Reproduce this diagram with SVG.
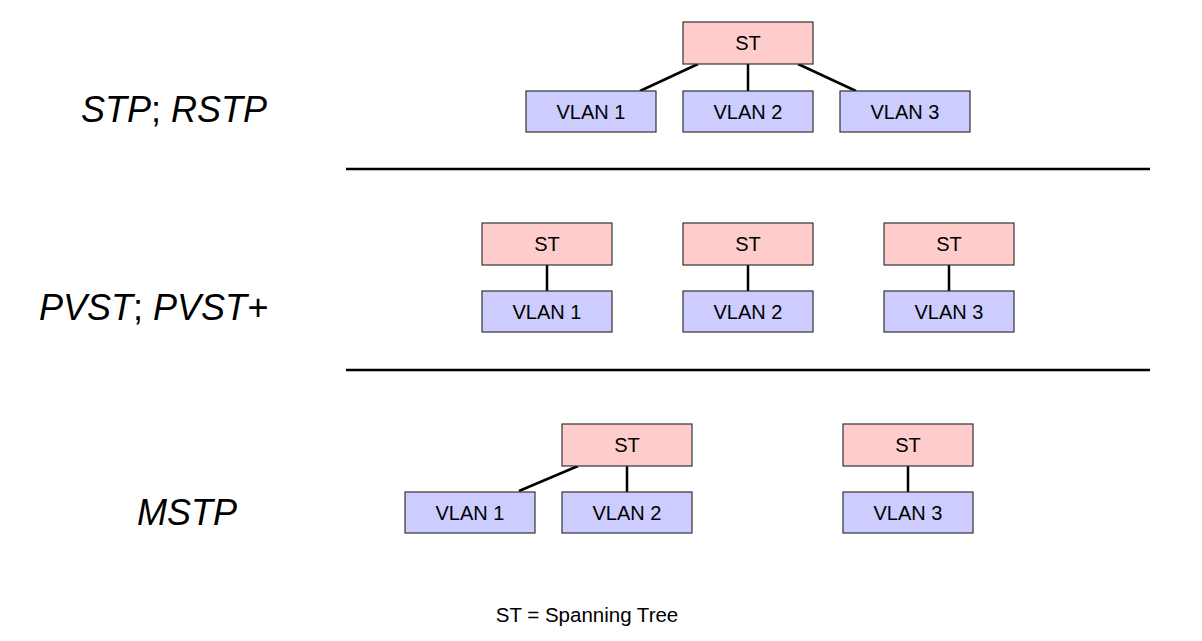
<svg xmlns="http://www.w3.org/2000/svg" width="1202" height="641" viewBox="0 0 1202 641">
<style>
.st{fill:#ffcccc;stroke:#333;stroke-width:1.2}
.vl{fill:#ccccff;stroke:#333;stroke-width:1.2}
.bt{font-family:"Liberation Sans",Arial,sans-serif;font-size:20px;fill:#000;text-anchor:middle}
.lab{font-family:"Liberation Sans",Arial,sans-serif;font-size:36px;font-style:italic;fill:#000}
.up{font-style:normal}
.c{stroke:#000;stroke-width:2.5;fill:none}
.sep{stroke:#000;stroke-width:2.5}
</style>
<rect width="1202" height="641" fill="#fff"/>
<text class="lab" x="81" y="122">STP<tspan class="up">; </tspan>RSTP</text>
<text class="lab" x="39" y="320">PVST<tspan class="up">; </tspan>PVST+</text>
<text class="lab" x="137" y="525">MSTP</text>
<line class="sep" x1="346" y1="169" x2="1150" y2="169"/>
<line class="sep" x1="346" y1="370" x2="1150" y2="370"/>
<g id="connectors">
<line class="c" x1="640" y1="91" x2="698" y2="64"/>
<line class="c" x1="748" y1="64" x2="748" y2="91"/>
<line class="c" x1="798" y1="64" x2="856" y2="91"/>
<line class="c" x1="547" y1="265" x2="547" y2="291"/>
<line class="c" x1="748" y1="265" x2="748" y2="291"/>
<line class="c" x1="949" y1="265" x2="949" y2="291"/>
<line class="c" x1="519" y1="491" x2="578" y2="466"/>
<line class="c" x1="627" y1="466" x2="627" y2="492"/>
<line class="c" x1="908" y1="466" x2="908" y2="492"/>
</g>
<g id="st1"><rect class="st" x="683" y="22" width="130" height="42"/><text class="bt" x="748" y="50">ST</text></g>
<g id="v1a"><rect class="vl" x="526" y="91" width="130" height="41"/><text class="bt" x="591" y="118.5">VLAN 1</text></g>
<g id="v2a"><rect class="vl" x="683" y="91" width="130" height="41"/><text class="bt" x="748" y="118.5">VLAN 2</text></g>
<g id="v3a"><rect class="vl" x="840" y="91" width="130" height="41"/><text class="bt" x="905" y="118.5">VLAN 3</text></g>
<g id="st2a"><rect class="st" x="482" y="223" width="130" height="42"/><text class="bt" x="547" y="251">ST</text></g>
<g id="st2b"><rect class="st" x="683" y="223" width="130" height="42"/><text class="bt" x="748" y="251">ST</text></g>
<g id="st2c"><rect class="st" x="884" y="223" width="130" height="42"/><text class="bt" x="949" y="251">ST</text></g>
<g id="v1b"><rect class="vl" x="482" y="291" width="130" height="41"/><text class="bt" x="547" y="318.5">VLAN 1</text></g>
<g id="v2b"><rect class="vl" x="683" y="291" width="130" height="41"/><text class="bt" x="748" y="318.5">VLAN 2</text></g>
<g id="v3b"><rect class="vl" x="884" y="291" width="130" height="41"/><text class="bt" x="949" y="318.5">VLAN 3</text></g>
<g id="st3a"><rect class="st" x="562" y="424" width="130" height="42"/><text class="bt" x="627" y="452">ST</text></g>
<g id="st3b"><rect class="st" x="843" y="424" width="130" height="42"/><text class="bt" x="908" y="452">ST</text></g>
<g id="v1c"><rect class="vl" x="405" y="492" width="130" height="41"/><text class="bt" x="470" y="519.5">VLAN 1</text></g>
<g id="v2c"><rect class="vl" x="562" y="492" width="130" height="41"/><text class="bt" x="627" y="519.5">VLAN 2</text></g>
<g id="v3c"><rect class="vl" x="843" y="492" width="130" height="41"/><text class="bt" x="908" y="519.5">VLAN 3</text></g>
<text class="bt" x="587" y="622" style="font-size:20.5px">ST = Spanning Tree</text>
</svg>
